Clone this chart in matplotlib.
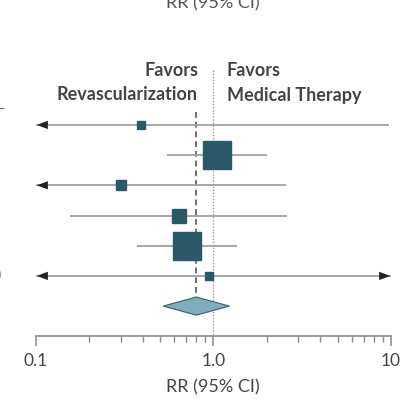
"""Forest plot: revascularization vs medical therapy, risk ratios."""

import matplotlib
matplotlib.use("Agg")
import matplotlib.pyplot as plt
import numpy as np

plt.rcParams["font.family"] = ["Lato", "DejaVu Sans"]

# per-study risk ratios with 95% CI (bounds past the axis get arrows)
rr = [0.39, 1.05, 0.30, 0.64, 0.71, 0.94]
ci_low = [0.05, 0.55, 0.05, 0.155, 0.37, 0.05]
ci_high = [9.7, 2.01, 2.55, 2.61, 1.35, 20.0]
weight = [3.0, 40.0, 5.5, 9.0, 40.0, 3.0]

# pooled estimate
pooled_rr = 0.80
pooled_low = 0.52
pooled_high = 1.23

x_ticks = [0.1, 1.0, 10]
x_tick_labels = ["0.1", "1.0", "10"]

W, H = 412, 399
SQUARE = "#2b5867"
DIAMOND = "#7eaeb9"
LINE = "#a0a0a0"
TEXT = "#444444"

fig = plt.figure(figsize=(W / 100, H / 100), dpi=100)
ax = fig.add_axes([36 / W, (H - 336) / H, (391 - 36) / W, (336 - 60) / H])
ax.set_xscale("log")
ax.set_xlim(0.1, 10)
ax.set_ylim(6.99, -2.15)

xmin, xmax = ax.get_xlim()
rows = np.arange(len(rr))

for y, est, lo, hi, w in zip(rows, rr, ci_low, ci_high, weight):
    ax.plot([max(lo, xmin), min(hi, xmax)], [y, y], color=LINE, lw=1.3,
            solid_capstyle="butt", zorder=2)
    ax.plot(est, y, marker="s", ms=3.3 * np.sqrt(w), color=SQUARE,
            mec=SQUARE, zorder=4)
    head = dict(arrowstyle="-|>,head_length=0.8,head_width=0.3",
                color="#222222", lw=0, shrinkA=0, shrinkB=0)
    if lo < xmin:
        ax.annotate("", xy=(xmin * 1.01, y), xytext=(xmin * 1.2, y),
                    arrowprops=head, zorder=3)
    if hi > xmax:
        ax.annotate("", xy=(xmax * 0.99, y), xytext=(xmax / 1.2, y),
                    arrowprops=head, zorder=3)

# pooled diamond
yd = len(rr)
half = 0.3
ax.fill([pooled_low, pooled_rr, pooled_high, pooled_rr],
        [yd, yd - half, yd, yd + half],
        facecolor=DIAMOND, edgecolor="#3d5f68", lw=0.8, zorder=4)

# reference lines: null effect and pooled estimate
ax.plot([1, 1], [-1.82, 6.99], color="#9a9a9a", lw=1.0, ls=(0, (1, 1.2)),
        zorder=1)
ax.plot([pooled_rr, pooled_rr], [-0.43, yd - half], color="#707070", lw=1.4,
        ls=(0, (3, 2)), zorder=1)

for side in ("left", "right", "top"):
    ax.spines[side].set_visible(False)
ax.spines["bottom"].set_color("#8a8a8a")
ax.spines["bottom"].set_linewidth(1.2)
ax.set_yticks([])
ax.set_xticks(x_ticks)
ax.set_xticklabels(x_tick_labels)
ax.tick_params(axis="x", which="major", direction="out", length=7.5,
               width=1.1, color="#8a8a8a", labelsize=12.5, labelcolor=TEXT,
               pad=5)
ax.tick_params(axis="x", which="minor", direction="out", length=4.5,
               width=1.0, color="#8a8a8a")
ax.xaxis.set_minor_formatter(plt.NullFormatter())

fig.text(213 / W, 1 - 387 / H, "RR (95% CI)", ha="center", va="center",
         fontsize=13, color=TEXT)
# axis label of the panel above, running off the top edge
fig.text(213 / W, 1 - 8 / H, "RR (95% CI)", ha="center", va="baseline",
         fontsize=13, color="#555555")

fig.text(198 / W, 1 - 71 / H, "Favors", ha="right", va="center",
         fontsize=13, fontweight="bold", color=TEXT)
fig.text(198 / W, 1 - 95 / H, "Revascularization", ha="right", va="center",
         fontsize=13, fontweight="bold", color=TEXT)
fig.text(227 / W, 1 - 71 / H, "Favors", ha="left", va="center",
         fontsize=13, fontweight="bold", color=TEXT)
fig.text(227 / W, 1 - 95 / H, "Medical Therapy", ha="left", va="center",
         fontsize=13, fontweight="bold", color=TEXT)

# edge of the study table to the left
fig.text(-3 / W, 1 - 110 / H, "–", ha="left", va="center", fontsize=11,
         color="#666666")
fig.text(-4 / W, 1 - 275 / H, ")", ha="left", va="center", fontsize=12,
         color="#555555")

fig.savefig("out.png", dpi=100)
